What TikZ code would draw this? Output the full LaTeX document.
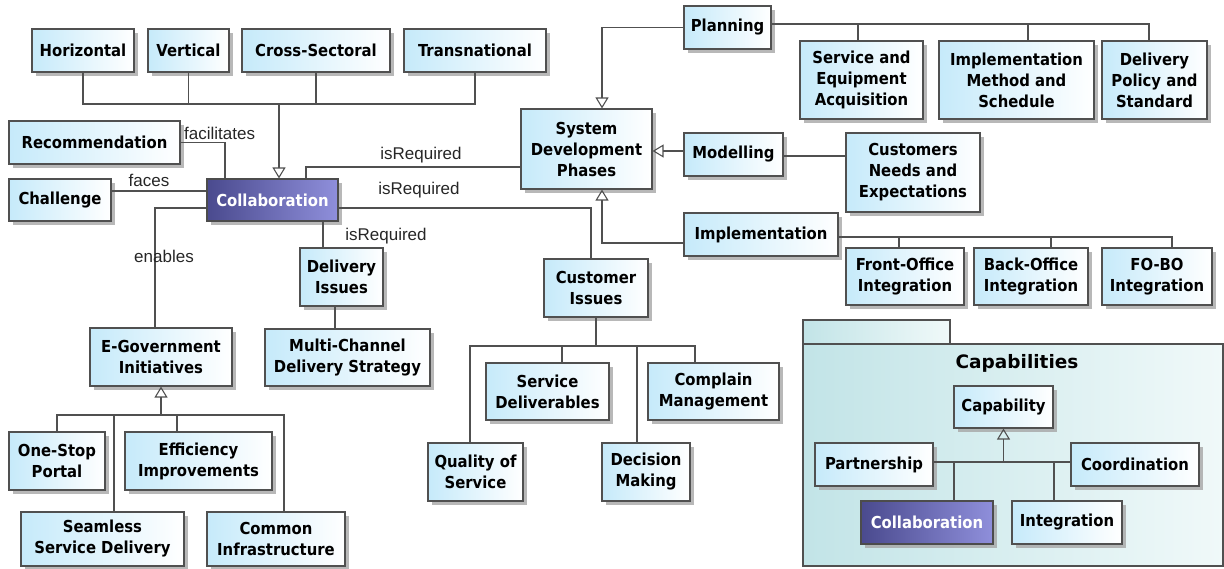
\documentclass[tikz,border=0pt]{standalone}
\usepackage{fontspec}
\usetikzlibrary{arrows.meta,shadows}
\newfontfamily\dvsfam{DejaVu Sans Condensed}
\newfontfamily\dvsbig{DejaVu Sans}
\newfontfamily\libfam{Liberation Sans}
\definecolor{boxblue}{HTML}{C6EAFA}
\definecolor{linegray}{HTML}{505050}
\definecolor{collabdark}{HTML}{4A4A8E}
\definecolor{collablight}{HTML}{8F8FDB}
\definecolor{pkgdark}{HTML}{C2E4E7}
\definecolor{pkglight}{HTML}{F0F9F9}
\tikzset{
 box/.style={draw=linegray, line width=1.1pt, left color=boxblue, right color=white, inner sep=0pt, align=center,
   font=\dvsfam\bfseries\fontsize{16.5}{21}\selectfont,
   drop shadow={shadow xshift=3.5pt, shadow yshift=-3.5pt, fill=black!35, opacity=0.8}},
 dark/.style={left color=collabdark, right color=collablight, text=white, draw=black!70},
 sz/.style 2 args={minimum width=#1pt, minimum height=#2pt},
 conn/.style={draw=linegray, line width=1.2pt},
 gen/.style={conn, -{Triangle[open, length=11pt, width=13pt, line width=1.1pt]}},
 lbl/.style={font=\libfam\fontsize{17}{19}\selectfont, inner sep=0pt, text=black!85},
 pkg/.style={draw=linegray, line width=1.1pt, left color=pkgdark, right color=pkglight},
}
\begin{document}
\begin{tikzpicture}[x=1pt, y=-1pt]
\useasboundingbox (0,0) rectangle (1224,568);
% package
\draw[pkg] (803,320) rectangle (950,344);
\draw[pkg] (803,344) rectangle (1223,566);
\node[font=\dvsbig\bfseries\fontsize{18.5}{20}\selectfont] (captitle) at (1017,363) {Capabilities};
% nodes
\node[box, sz={102}{43}] (hor) at (83,50.5) {Horizontal};
\node[box, sz={81}{43}] (ver) at (188.5,50.5) {Vertical};
\node[box, sz={148}{43}] (cross) at (316,50.5) {Cross-Sectoral};
\node[box, sz={142}{43}] (trans) at (475,50.5) {Transnational};
\node[box, sz={171}{43}] (rec) at (94.5,142.5) {Recommendation};
\node[box, sz={102}{42}] (chal) at (60,200) {Challenge};
\node[box, dark, sz={131}{42}] (collab) at (272.5,200) {Collaboration};
\node[box, sz={87}{43}] (plan) at (727.5,27.5) {Planning};
\node[box, sz={123}{78}] (sea) at (861.5,80) {Service and\\Equipment\\Acquisition};
\node[box, sz={155}{78}] (ims) at (1016.5,80) {Implementation\\Method and\\Schedule};
\node[box, sz={105}{78}] (dps) at (1154.5,80) {Delivery\\Policy and\\Standard};
\node[box, sz={131}{80}] (sdp) at (586.5,149) {System\\Development\\Phases};
\node[box, sz={99}{43}] (mod) at (733.5,154.5) {Modelling};
\node[box, sz={134}{79}] (cne) at (913,172.5) {Customers\\Needs and\\Expectations};
\node[box, sz={154}{43}] (impl) at (761,234.5) {Implementation};
\node[box, sz={118}{57}] (foi) at (905,276.5) {Front-Office\\Integration};
\node[box, sz={114}{57}] (boi) at (1031,276.5) {Back-Office\\Integration};
\node[box, sz={110}{57}] (fobo) at (1157,276.5) {FO-BO\\Integration};
\node[box, sz={83}{58}] (di) at (341.5,277) {Delivery\\Issues};
\node[box, sz={165}{57}] (mc) at (347.5,357.5) {Multi-Channel\\Delivery Strategy};
\node[box, sz={104}{58}] (ci) at (596,288) {Customer\\Issues};
\node[box, sz={123}{57}] (sd) at (547.5,391.5) {Service\\Deliverables};
\node[box, sz={131}{57}] (cm) at (713.5,391.5) {Complain\\Management};
\node[box, sz={95}{58}] (qos) at (475.5,472) {Quality of\\Service};
\node[box, sz={88}{58}] (dm) at (646,472) {Decision\\Making};
\node[box, sz={142}{58}] (egov) at (161,357) {E-Government\\Initiatives};
\node[box, sz={96}{58}] (osp) at (57,461) {One-Stop\\Portal};
\node[box, sz={147}{58}] (eff) at (198.5,461) {Efficiency\\Improvements};
\node[box, sz={163}{54}] (ssd) at (102.5,539) {Seamless\\Service Delivery};
\node[box, sz={138}{54}] (ci2) at (276,539) {Common\\Infrastructure};
\node[box, sz={99}{42}] (cap) at (1003.5,407) {Capability};
\node[box, sz={118}{43}] (part) at (874,464.5) {Partnership};
\node[box, sz={128}{43}] (coord) at (1135,464.5) {Coordination};
\node[box, dark, sz={132}{43}] (collab2) at (927,522.5) {Collaboration};
\node[box, sz={110}{43}] (integ) at (1067,522.5) {Integration};
% top group
\coordinate (tj) at (279,104);
\foreach \n in {hor,ver,cross,trans} \draw[conn] (\n.south) |- (tj);
\draw[gen] (tj) -- (tj |- collab.north);
% collaboration relations
\draw[conn] (rec.east) -| ([xshift=-47.5]collab.north);
\node[lbl, anchor=west] (lfac) at (184,133) {facilitates};
\draw[conn] ([yshift=9]chal.east) -- ([yshift=9]chal.east -| collab.west);
\node[lbl] (lfaces) at (149,180) {faces};
\draw[conn] ([xshift=33.5]collab.north) |- ([yshift=-18]sdp.west);
\node[lbl] (lreq1) at (421,155) {isRequired};
\draw[conn] ([yshift=-8]collab.east) -| ([xshift=-5]ci.north);
\node[lbl] (lreq2) at (419,190) {isRequired};
\draw[conn] ([yshift=-8]collab.west) -| ([xshift=-6]egov.north);
\node[lbl] (lenab) at (164,256) {enables};
\draw[conn] ([xshift=50.5]collab.south) -- ([xshift=50.5]collab.south |- di.north);
\node[lbl] (lreq3) at (386,236) {isRequired};
\draw[conn] ([xshift=-6.5]di.south) -- ([xshift=-6.5]di.south |- mc.north);
% planning
\draw[gen] (plan.west) -| ([xshift=15.5]sdp.north);
\coordinate (pb) at ([yshift=3.5]plan.east);
\draw[conn] (pb) -| ([xshift=-5.5]dps.north);
\draw[conn] ([xshift=-3.5]sea.north) -- ([xshift=-3.5]sea.north |- pb);
\draw[conn] ([xshift=11.5]ims.north) -- ([xshift=11.5]ims.north |- pb);
% modelling
\draw[gen] ([yshift=3.5]mod.west) -- ([yshift=3.5]mod.west -| sdp.east);
\draw[conn] ([yshift=-1.5]mod.east) -- ([yshift=-1.5]mod.east -| cne.west);
% implementation
\draw[gen] ([yshift=-8.5]impl.west) -| ([xshift=15.5]sdp.south);
\coordinate (ib) at ([yshift=-2.5]impl.east);
\draw[conn] (ib) -| ([xshift=15]fobo.north);
\draw[conn] ([xshift=-6]foi.north) -- ([xshift=-6]foi.north |- ib);
\draw[conn] ([xshift=20]boi.north) -- ([xshift=20]boi.north |- ib);
% customer issues
\coordinate (cb) at (ci.south |- 0,346);
\draw[conn] (ci.south) -- (cb);
\draw[conn] (cb) -| ([xshift=-5.5]qos.north);
\draw[conn] (cb) -| ([xshift=14.5]sd.north);
\draw[conn] (cb) -| ([xshift=-9]dm.north);
\draw[conn] (cb) -| ([xshift=-18.5]cm.north);
% e-government
\coordinate (eb) at (egov.south |- 0,415);
\draw[gen] (eb) -- (egov.south);
\draw[conn] (eb) -| (osp.north);
\draw[conn] (eb) -| ([xshift=11.5]ssd.north);
\draw[conn] (eb) -| ([xshift=-21.5]eff.north);
\draw[conn] (eb) -| ([xshift=8]ci2.north);
% capabilities
\coordinate (kb) at (cap.south |- 0,462);
\draw[gen] (kb) -- (cap.south);
\draw[conn] ([yshift=2.5]part.east) -- ([yshift=2.5]part.east -| coord.west);
\draw[conn] ([xshift=27]collab2.north) -- ([xshift=27]collab2.north |- kb);
\draw[conn] ([xshift=-13]integ.north) -- ([xshift=-13]integ.north |- kb);
\end{tikzpicture}
\end{document}
